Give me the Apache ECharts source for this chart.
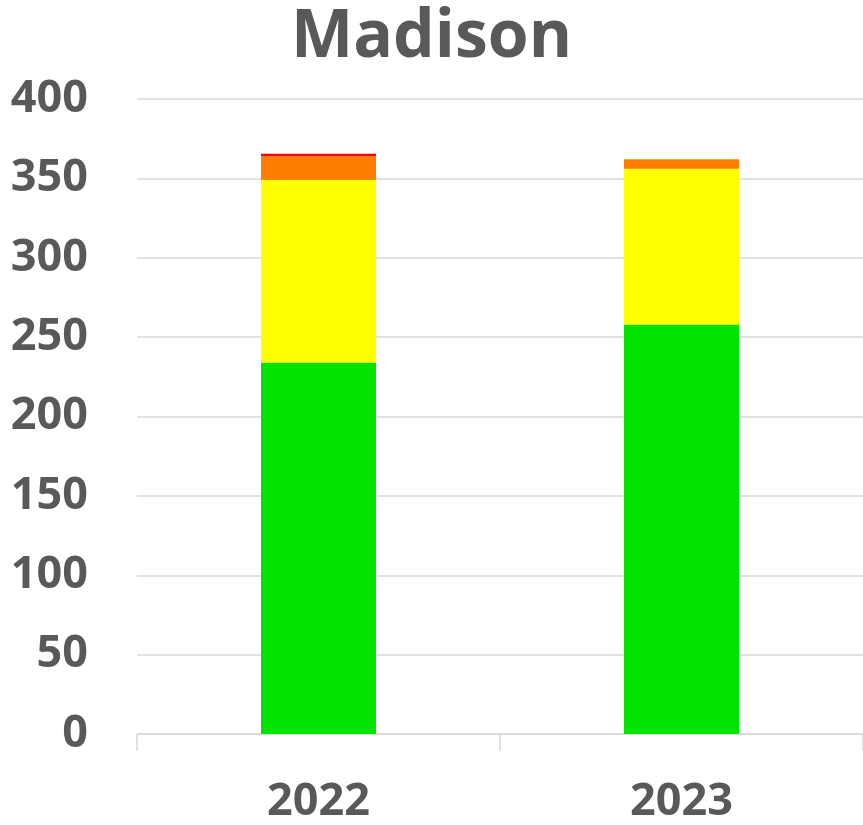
<!DOCTYPE html>
<html>
<head>
<meta charset="utf-8">
<script src="https://cdn.jsdelivr.net/npm/echarts@6/dist/echarts.min.js"></script>
<style>
  html, body { margin: 0; padding: 0; background: #fff; }
  #chart { width: 863px; height: 825px; }
</style>
</head>
<body>
<div id="chart"></div>
<script>
// 数据
const years = ['2022', '2023']
const good = [234, 258]
const moderate = [115, 98]
const sensitive = [15, 6]
const unhealthy = [1.5, 0]
const yTicks = [0, 50, 100, 150, 200, 250, 300, 350, 400]

const chart = echarts.init(document.getElementById('chart'))
const textColor = '#595959'
const font = '"Open Sans", "Liberation Sans", sans-serif'

function bar(name, data, color) {
  return {
    name: name,
    type: 'bar',
    stack: 'aqi',
    barWidth: 115,
    itemStyle: { color: color },
    data: data
  }
}

chart.setOption({
  animation: false,
  title: {
    text: 'Madison',
    left: 'center',
    top: 0,
    textStyle: { fontFamily: font, fontSize: 66, fontWeight: 'bold', color: textColor }
  },
  grid: { left: 137, right: 0, top: 99, bottom: 91 },
  xAxis: {
    type: 'category',
    data: years,
    axisLine: { lineStyle: { color: '#d9d9d9', width: 1.5 } },
    axisTick: { show: true, length: 17, lineStyle: { color: '#d9d9d9', width: 1.5 } },
    axisLabel: { margin: 46, fontFamily: font, fontSize: 45, fontWeight: 'bold', color: textColor }
  },
  yAxis: {
    type: 'value',
    min: yTicks[0],
    max: yTicks[yTicks.length - 1],
    interval: 50,
    axisLine: { show: false },
    axisTick: { show: false },
    splitLine: { lineStyle: { color: '#d9d9d9', width: 1.5 } },
    axisLabel: { margin: 49, fontFamily: font, fontSize: 45, fontWeight: 'bold', color: textColor }
  },
  series: [
    bar('Good', good, '#00e400'),
    bar('Moderate', moderate, '#ffff00'),
    bar('Unhealthy for Sensitive Groups', sensitive, '#ff7e00'),
    bar('Unhealthy', unhealthy, '#ff0000')
  ]
})
</script>
</body>
</html>
